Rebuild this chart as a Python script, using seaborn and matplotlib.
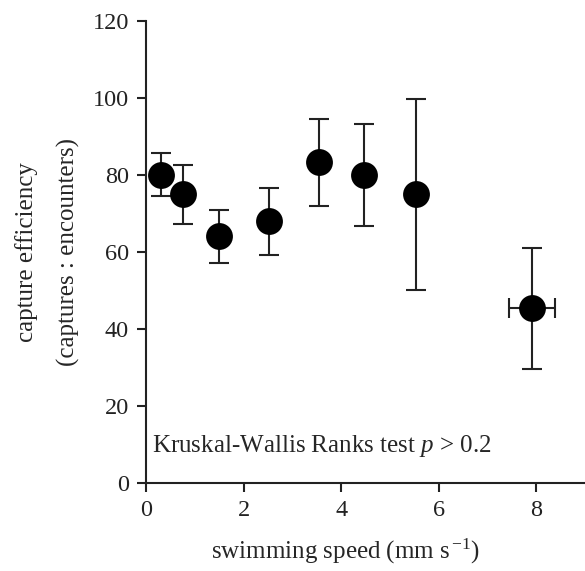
import pandas as pd
import matplotlib.pyplot as plt
import seaborn as sns

# valeurs
speed = [0.31, 0.76, 1.49, 2.51, 3.55, 4.47, 5.53, 7.92]
efficiency = [80.0, 75.0, 64.2, 68.0, 83.4, 80.0, 75.0, 45.5]
err_up = [5.7, 7.6, 6.8, 8.6, 11.1, 13.2, 24.7, 15.5]
err_down = [5.5, 7.7, 7.1, 8.8, 11.4, 13.2, 24.9, 15.9]
speed_err = [0, 0, 0, 0, 0, 0, 0, 0.47]

df = pd.DataFrame({"speed": speed, "efficiency": efficiency})

sns.set_style("ticks")
plt.rcParams['font.family'] = ['Liberation Serif', 'DejaVu Serif']
plt.rcParams['mathtext.fontset'] = 'custom'
plt.rcParams['mathtext.rm'] = 'Liberation Serif'
plt.rcParams['mathtext.it'] = 'Liberation Serif:italic'

fig = plt.figure(figsize=(5.85, 5.71), dpi=100)
ax = fig.add_axes([0.25, 0.154, 0.75, 0.809])

# barres d'erreur
ax.errorbar(speed, efficiency, yerr=[err_down, err_up], fmt='none',
            ecolor='#222222', elinewidth=1.5, capsize=7, capthick=1.5, zorder=2)
ax.errorbar(speed[-1:], efficiency[-1:], xerr=[speed_err[-1:], speed_err[-1:]],
            fmt='none', ecolor='#222222', elinewidth=1.5, capsize=7, capthick=1.5, zorder=2)

sns.scatterplot(data=df, x="speed", y="efficiency", ax=ax, color='black',
                s=320, edgecolor='black', zorder=3, legend=False)

ax.set_xlim(0, 9)
ax.set_ylim(0, 120)
ax.set_xticks([0, 2, 4, 6, 8])
ax.set_yticks(range(0, 121, 20))
ax.tick_params(direction='out', length=6.5, width=1.5, labelsize=17.5,
               colors='#222222', pad=6)
for s in ['left', 'bottom']:
    ax.spines[s].set_linewidth(1.5)
    ax.spines[s].set_color('#222222')
sns.despine(ax=ax)

ax.set_xlabel(r"swimming speed (mm s$^{\,\mathrm{-1}}$)", fontsize=18)
ax.xaxis.set_label_coords(0.453, -0.117)
ax.set_ylabel("capture efficiency\n(captures : encounters)", fontsize=18,
              linespacing=2.1)
ax.yaxis.set_label_coords(-0.15, 0.5)
ax.text(0.12, 8, r"Kruskal-Wallis Ranks test $p$ > 0.2", fontsize=18)

fig.savefig("out.png", dpi=100)
